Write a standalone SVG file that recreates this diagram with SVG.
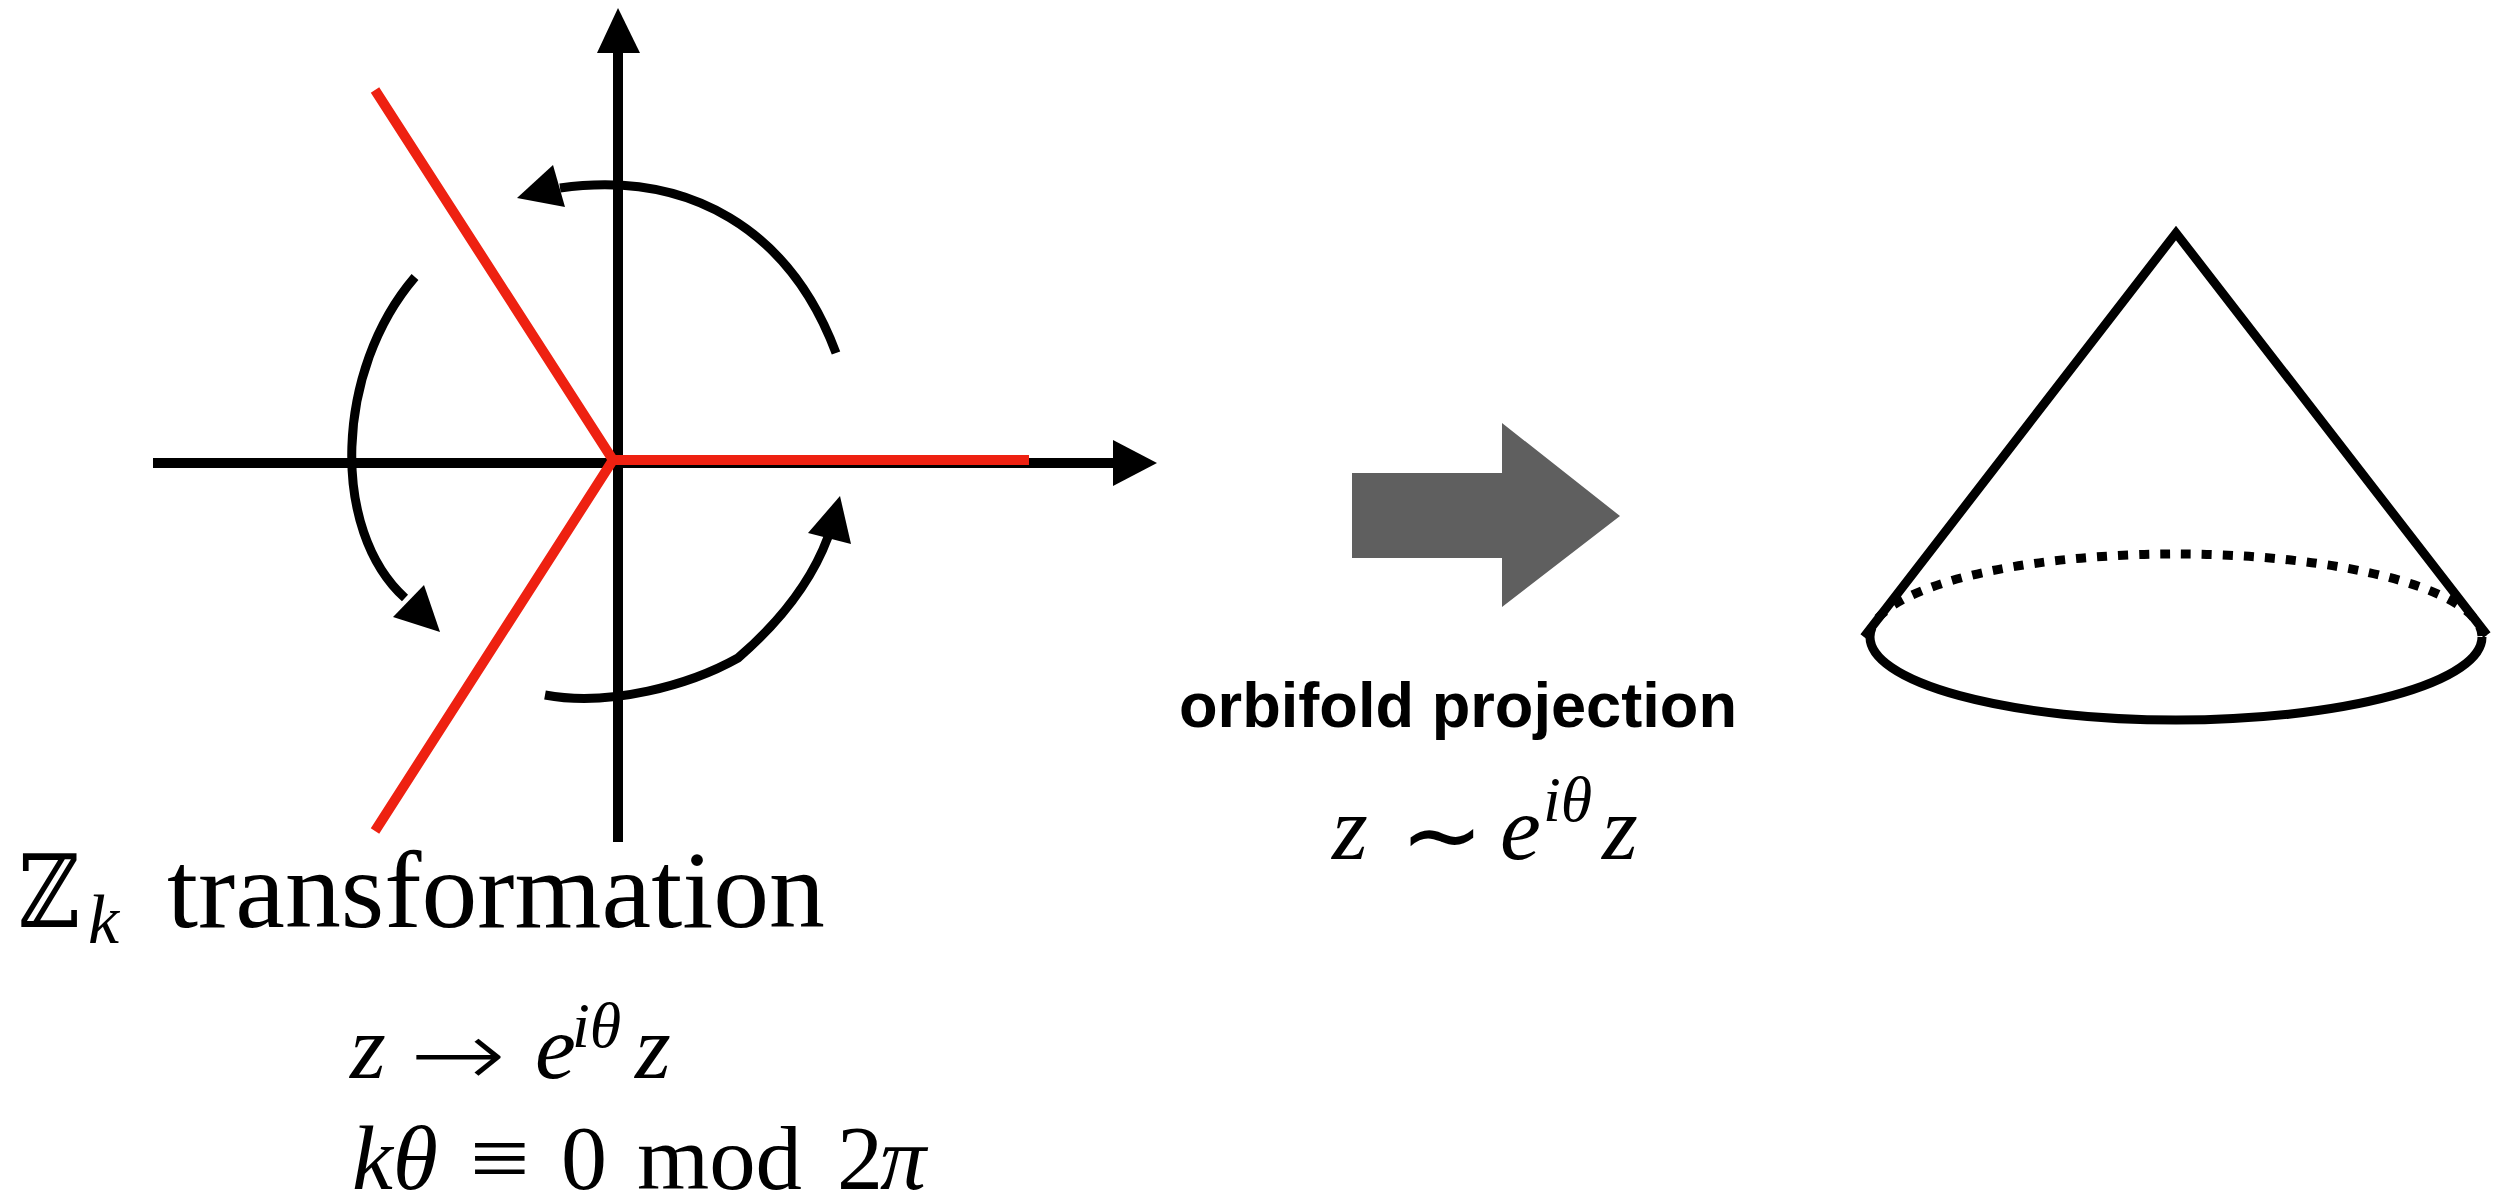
<svg xmlns="http://www.w3.org/2000/svg" width="2497" height="1199" viewBox="0 0 2497 1199">
<style>
.ax{stroke:#000;stroke-width:10;fill:none}
.red{stroke:#ee2111;stroke-width:10;fill:none;stroke-linejoin:miter;stroke-miterlimit:10}
.arc{stroke:#000;stroke-width:9;fill:none}
.head{fill:#000;stroke:none}
.cone{stroke:#000;stroke-width:9;fill:none;stroke-linejoin:miter}
.dash{stroke:#000;stroke-width:9;fill:none;stroke-dasharray:10 11}
.m{font-family:"Liberation Serif","DejaVu Serif",serif;font-size:92px;fill:#000}
.mi{font-family:"Liberation Serif","DejaVu Serif",serif;font-style:italic;font-size:92px;fill:#000}
.sym{font-family:"DejaVu Sans",sans-serif;font-weight:200;fill:#000}
.sup{font-family:"Liberation Serif","DejaVu Serif",serif;font-style:italic;font-size:64px;fill:#000}
.lbl{font-family:"Liberation Sans",Arial,sans-serif;font-weight:bold;font-size:63px;fill:#000}
</style>
<rect width="2497" height="1199" fill="#fff"/>
<g id="plane">
  <line class="ax" x1="153" y1="463" x2="1115" y2="463"/>
  <polygon class="head" points="1113,440 1157,463 1113,486"/>
  <line class="ax" x1="618" y1="842" x2="618" y2="51"/>
  <polygon class="head" points="597,53 618,8 640,53"/>
  <polyline class="red" points="375,90 613,460 375,831"/>
  <line class="red" x1="611" y1="460" x2="1029" y2="460"/>
</g>
<g id="connectors">
  <path class="arc" d="M836,353 C790,230 690,170 560,188"/>
  <polygon class="head" points="517,198 553,165 565,207"/>
  <path class="arc" d="M415,277 C335,370 330,530 405,598"/>
  <polygon class="head" points="440,632 424,585 393,617"/>
  <path class="arc" d="M545,695 C610,707 690,685 738,658 C782,620 812,580 828,537"/>
  <polygon class="head" points="840,496 808,533 851,544"/>
</g>
<g id="label-zk">
  <text x="18" y="927" font-family="DejaVu Serif,DejaVu Sans,serif" font-size="101" textLength="62" lengthAdjust="spacingAndGlyphs">ℤ</text>
  <text x="88" y="943" font-family="Liberation Serif,serif" font-style="italic" font-size="70">k</text>
  <text x="167" y="927" font-family="Liberation Serif,serif" font-size="110" textLength="658" lengthAdjust="spacingAndGlyphs">transformation</text>
</g>
<g id="formula-1">
  <text class="mi" x="350" y="1078">z</text>
  <text class="sym" font-size="92" transform="translate(410,1086) scale(1.25,1)">→</text>
  <text class="mi" x="535" y="1078">e</text>
  <text class="sup" x="572" y="1047">iθ</text>
  <text class="mi" x="635" y="1078">z</text>
</g>
<g id="formula-2">
  <text class="mi" x="352" y="1189">kθ</text>
  <text class="m" x="470" y="1189" textLength="60" lengthAdjust="spacingAndGlyphs">≡</text>
  <text class="m" x="561" y="1189">0</text>
  <text class="m" x="637" y="1189" textLength="165" lengthAdjust="spacingAndGlyphs">mod</text>
  <text class="m" x="837" y="1189">2</text>
  <text class="mi" x="880" y="1189">π</text>
</g>
<g id="projection-arrow">
  <polygon fill="#5f5f5f" points="1352,473 1502,473 1502,423 1620,516 1502,607 1502,558 1352,558"/>
  <text class="lbl" x="1179" y="727" textLength="558" lengthAdjust="spacingAndGlyphs">orbifold projection</text>
</g>
<g id="formula-3">
  <text class="mi" x="1332" y="859">z</text>
  <text font-family="DejaVu Sans,sans-serif" font-size="100" transform="translate(1400,869)">∼</text>
  <text class="mi" x="1500" y="859">e</text>
  <text class="sup" x="1543" y="821">iθ</text>
  <text class="mi" x="1602" y="859">z</text>
</g>
<g id="cone">
  <polyline class="cone" points="1864,637 2176,233 2487,635"/>
  <path class="cone" d="M1870,637 A306,83 0 0 0 2482,637"/>
  <path class="dash" d="M1870,637 A306,83 0 0 1 2482,637"/>
</g>
</svg>
